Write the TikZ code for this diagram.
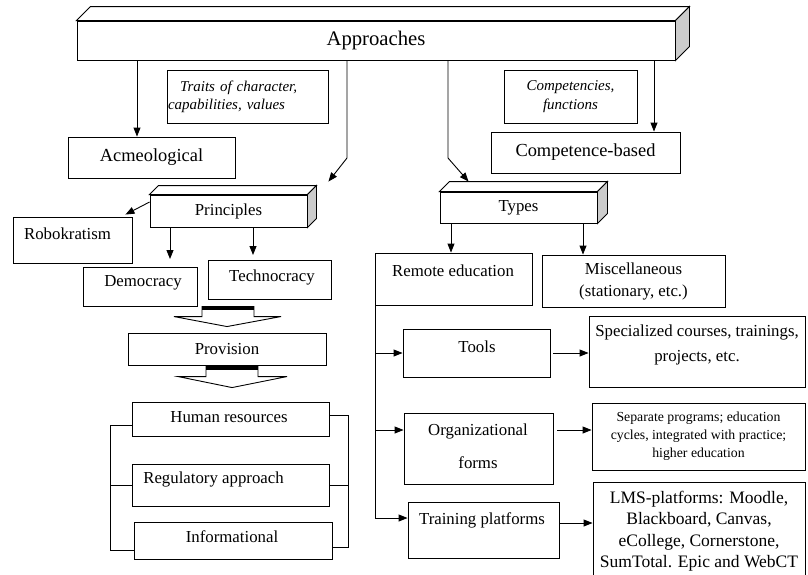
\documentclass[tikz,border=0pt]{standalone}
\usepackage{fontspec}
\setmainfont{Liberation Serif}
\usetikzlibrary{arrows.meta}
\newcommand{\fsz}[2]{\fontsize{#1}{#2}\selectfont}
% front face is the node, #2 is the depth of the slab
\newcommand{\slabtop}[2]{%
  \draw[ln, fill=white] (#1.north west) -- ++(#2,-#2) -- ([shift={(#2,-#2)}]#1.north east) -- (#1.north east) -- cycle;
  \draw[ln, fill=gray!40] (#1.north east) -- ++(#2,-#2) -- ([shift={(#2,-#2)}]#1.south east) -- (#1.south east) -- cycle;}
\tikzset{
  box/.style={draw, line width=0.9pt, fill=white, inner sep=0pt, align=center, font=\fsz{16.8}{20}},
  txt/.style={inner sep=0pt, align=center, font=\fsz{16.8}{20}},
  arr/.style={-{Triangle[length=9pt,width=7pt]}, line width=0.9pt},
  ln/.style={line width=0.9pt},
  hollow/.style={draw, line width=0.9pt, fill=white}
}
\begin{document}
\begin{tikzpicture}[x=1pt,y=-1pt]
    \clip (0,0) rectangle (808,574);
    % top
    \node[box, minimum width=598, minimum height=39, font=\fsz{20.7}{24}] (appr) at (376,40.5) {Approaches};
    \slabtop{appr}{14}
    \node[box, minimum width=161, minimum height=53, text width=159, align=left, font=\fsz{15}{18}\itshape] (traits) at (247.5,96.5) {\hspace*{12pt}Traits of character,\\capabilities, values};
    \node[box, minimum width=167, minimum height=41, font=\fsz{18.4}{22}] (acme) at (151.5,157.5) {Acmeological};
    \node[box, minimum width=133, minimum height=53, font=\fsz{15}{19}\itshape] (compf) at (570.5,96.5) {Competencies,\\functions};
    \node[box, minimum width=189, minimum height=41, font=\fsz{18.4}{22}] (compb) at (585.5,152.5) {Competence-based};
    \node[box, minimum width=157, minimum height=32] (princ) at (228.5,211) {Principles};
    \slabtop{princ}{9}
    \node[box, minimum width=157, minimum height=31] (types) at (518.5,207.5) {Types};
    \slabtop{types}{10}
    % left part
    \node[box, minimum width=119, minimum height=46] (robo) at (72.5,240) {};
    \node[txt] (robo-t) at (67.5,234) {Robokratism};
    \node[box, minimum width=114, minimum height=39] (demo) at (140,286.5) {};
    \node[txt] (demo-t) at (143,283) {Democracy};
    \node[box, minimum width=123, minimum height=39] (techno) at (269.5,279.5) {};
    \node[txt] (techno-t) at (272,277) {Technocracy};
    \node[box, minimum width=198, minimum height=32] (prov) at (227,349) {Provision};
    \node[box, minimum width=197, minimum height=34] (hr) at (230.5,419) {};
    \node[txt] (hr-t) at (229,417) {Human resources};
    \node[box, minimum width=197, minimum height=42] (reg) at (230.5,485) {};
    \node[txt] (reg-t) at (213.5,479) {Regulatory approach};
    \node[box, minimum width=198, minimum height=37] (info) at (233,540.5) {};
    \node[txt] (info-t) at (232,537) {Informational};
    % right part
    \node[box, minimum width=157, minimum height=52] (remote) at (453.5,279) {};
    \node[txt] (remote-t) at (453,271) {Remote education};
    \node[box, minimum width=183, minimum height=52, font=\fsz{16.8}{22}] (misc) at (633.5,281) {Miscellaneous\\(stationary, etc.)};
    \node[box, minimum width=147, minimum height=48] (tools) at (476.5,353) {};
    \node[txt] (tools-t) at (477,347) {Tools};
    \node[box, minimum width=216, minimum height=71] (spec) at (697,351.5) {};
    \node[txt, font=\fsz{16.8}{25}] (spec-t) at (697,344.5) {Specialized courses, trainings,\\projects, etc.};
    \node[box, minimum width=149, minimum height=71] (org) at (478.5,448.5) {};
    \node[txt, font=\fsz{16.8}{33}] (org-t) at (478,446.5) {Organizational\\forms};
    \node[box, minimum width=213, minimum height=67, font=\fsz{13.8}{18}] (sep) at (698.5,436.5) {Separate programs; education\\cycles, integrated with practice;\\higher education};
    \node[box, minimum width=151, minimum height=56] (train) at (483.5,530) {};
    \node[txt] (train-t) at (482,520) {Training platforms};
    \node[box, minimum width=212, minimum height=98, font=\fsz{17.5}{21.5}] (lms) at (699,531) {LMS-platforms: Moodle,\\Blackboard, Canvas,\\eCollege, Cornerstone,\\SumTotal. Epic and WebCT};
    % arrows from the top
    \draw[arr] (appr.south -| 137,0) -- (acme.north -| 137,0);
    \draw[arr] (appr.south -| 347,0) -- (347,158) -- ([shift={(21,-13)}]princ.north east);
    \draw[arr] (appr.south -| 448,0) -- (448,158) -- ([shift={(29,-10)}]types.north west);
    \draw[arr] (appr.south -| 654,0) -- (compb.north -| 654,0);
    \draw[arr] ([yshift=9pt]princ.west) -- ([shift={(-7,-2)}]robo.north east);
    \draw[arr] (princ.south -| 170,0) -- (170,259);
    \draw[arr] (princ.south -| 253,0) -- (253,255);
    % hollow arrows
    \draw[hollow] ([yshift=6pt]prov.north) -- ++(-53,-10) -- ++(28,0) -- ++(0,-10) -- ++(52,0) -- ++(0,10) -- ++(27,0) -- cycle;
    \draw[line width=3pt] ([shift={(-25,-24.5)}]prov.north) -- ++(52,0);
    \draw[hollow] ([shift={(1.5,-14)}]hr.north) -- ++(-54,-11) -- ++(28,0) -- ++(0,-10) -- ++(52,0) -- ++(0,10) -- ++(29,0) -- cycle;
    \draw[line width=3pt] ([shift={(-24.5,-33.5)}]hr.north) -- ++(52,0);
    % brackets
    \draw[ln] ([yshift=-6pt]hr.west) -| (110,550) -- ([yshift=-9.5pt]info.west);
    \draw[ln] (110,0 |- reg.west) -- (reg.west);
    \draw[ln] ([yshift=4pt]hr.east) -| (348,547) -- ([yshift=-6.5pt]info.east);
    \draw[ln] (reg.east) -- (348,0 |- reg.east);
    % types
    \draw[arr] (types.south -| 451,0) -- (remote.north -| 451,0);
    \draw[arr] (types.south -| 583,0) -- (misc.north -| 583,0);
    \coordinate (orgin) at ([yshift=18.5pt]org.west);
    \coordinate (orgout) at ([yshift=18.5pt]org.east);
    \coordinate (trainout) at ([yshift=7pt]train.east);
    \draw[arr] ([xshift=1pt]remote.south west) |- ([yshift=12pt]train.west);
    \draw[arr] (376,0 |- tools.west) -- (tools.west);
    \draw[arr] (376,0 |- orgin) -- (orgin);
    \draw[arr, shorten <=3pt] (tools.east) -- (spec.west |- tools.east);
    \draw[arr, shorten <=4pt] (orgout) -- (sep.west |- orgout);
    \draw[arr] (trainout) -- (lms.west |- trainout);
\end{tikzpicture}
\end{document}
